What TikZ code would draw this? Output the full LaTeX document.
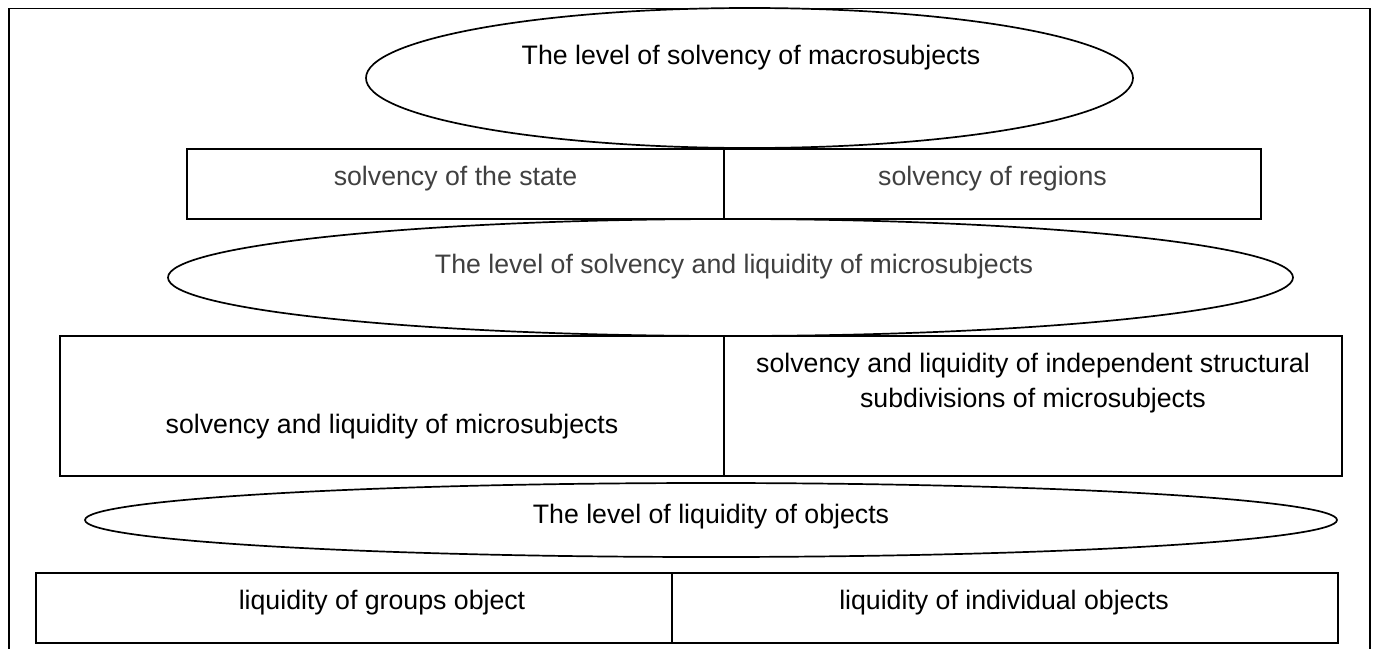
\documentclass[tikz,border=0pt]{standalone}
\usepackage{fontspec}
\setmainfont{Liberation Sans}
\usetikzlibrary{shapes.geometric}
\definecolor{txtgray}{HTML}{404040}
\begin{document}
\begin{tikzpicture}[x=1pt,y=-1pt,
  line width=1.7pt,
  oval/.style={draw, ellipse, inner sep=0pt, outer sep=0pt},
  cell/.style={draw, rectangle, inner sep=0pt, outer sep=0pt, anchor=north west},
  lbl/.style={anchor=base, inner sep=0pt, font=\fontsize{26.7}{32}\selectfont, align=center},
  lblg/.style={lbl, text=txtgray}]
\useasboundingbox (0,0) rectangle (1375,648);
\node[draw, rectangle, inner sep=0pt, minimum width=1361pt, minimum height=645pt, anchor=north west] (frame) at (8,7.5) {};
% level 1
\node[oval, minimum width=767pt, minimum height=140pt] (e1) at (749.5,78) {};
\node[lbl] (t1) at (751,64) {The level of solvency of macrosubjects};
\node[cell, minimum width=537pt, minimum height=70pt] (b1a) at (187,149) {};
\node[cell, minimum width=537pt, minimum height=70pt] (b1b) at (724,149) {};
\node[lblg] (t1a) at (455.5,185) {solvency of the state};
\node[lblg] (t1b) at (992.5,185) {solvency of regions};
% level 2
\node[oval, minimum width=1125pt, minimum height=117pt] (e2) at (730.5,277.5) {};
\node[lblg] (t2) at (734,273) {The level of solvency and liquidity of microsubjects};
\node[cell, minimum width=664pt, minimum height=140pt] (b2a) at (60,336) {};
\node[cell, minimum width=618pt, minimum height=140pt] (b2b) at (724,336) {};
\node[lbl] (t2a) at (392,433) {solvency and liquidity of microsubjects};
\node[lbl] (t2b1) at (1033,372) {solvency and liquidity of independent structural};
\node[lbl] (t2b2) at (1033,407) {subdivisions of microsubjects};
% level 3
\node[oval, minimum width=1252pt, minimum height=74pt] (e3) at (711,520) {};
\node[lbl] (t3) at (711,523) {The level of liquidity of objects};
\node[cell, minimum width=636pt, minimum height=70pt] (b3a) at (36,573) {};
\node[cell, minimum width=666pt, minimum height=70pt] (b3b) at (672,573) {};
\node[lbl] (t3a) at (382,609) {liquidity of groups object};
\node[lbl] (t3b) at (1004,609) {liquidity of individual objects};
\end{tikzpicture}
\end{document}
